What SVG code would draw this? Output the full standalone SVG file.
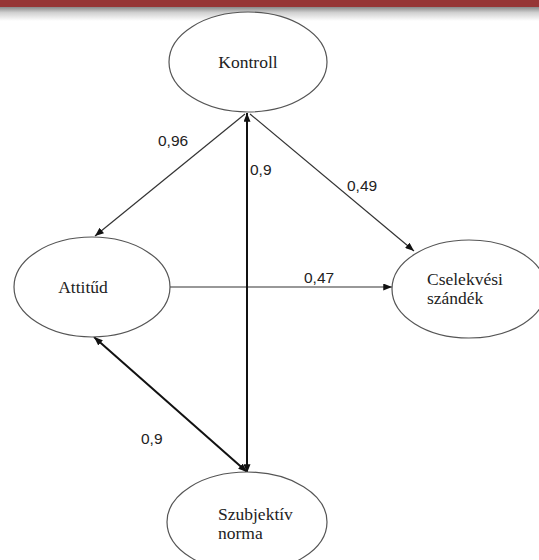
<svg xmlns="http://www.w3.org/2000/svg" width="539" height="560" viewBox="0 0 539 560">
<style>
.node{fill:#fff;stroke:#555;stroke-width:1.2}
.nt{font-family:"Liberation Serif",serif;font-size:17.5px;fill:#222}
.lbl{font-family:"Liberation Sans",Arial,sans-serif;font-size:15.5px;fill:#222}
.c{stroke:#333;stroke-width:1.2;fill:none}
.ct{stroke:#111;stroke-width:2;fill:none}
</style>
<defs>
<linearGradient id="shade" x1="0" y1="0" x2="0" y2="1">
<stop offset="0" stop-color="#8a8a8a"/>
<stop offset="0.4" stop-color="#d0d0d0"/>
<stop offset="1" stop-color="#fff"/>
</linearGradient>
<marker id="ah" viewBox="0 0 10 8" refX="10" refY="4" markerWidth="9" markerHeight="7" markerUnits="userSpaceOnUse" orient="auto-start-reverse">
<path d="M0,0 L10,4 L0,8 z" fill="#111"/>
</marker>
</defs>
<rect width="539" height="560" fill="#fff"/>
<rect x="0" y="7" width="539" height="14" fill="url(#shade)"/>
<rect x="0" y="0" width="539" height="7" fill="#963636"/>
<g id="connectors">
<line class="c" x1="245" y1="114" x2="95" y2="236" marker-end="url(#ah)"/>
<line class="c" x1="250" y1="114" x2="414" y2="251" marker-end="url(#ah)"/>
<line class="c" x1="170" y1="287" x2="392" y2="287" marker-end="url(#ah)"/>
<line class="ct" x1="247" y1="113" x2="247" y2="473" marker-start="url(#ah)" marker-end="url(#ah)"/>
<line class="ct" x1="94" y1="337" x2="247" y2="472" marker-start="url(#ah)" marker-end="url(#ah)"/>
</g>
<g id="kontroll">
<ellipse class="node" cx="248" cy="62" rx="79" ry="50"/>
<text class="nt" x="248" y="68" text-anchor="middle">Kontroll</text>
</g>
<g id="attitud">
<ellipse class="node" cx="92" cy="287" rx="78" ry="50"/>
<text class="nt" x="83" y="293" text-anchor="middle">Attitűd</text>
</g>
<g id="cselekvesi">
<ellipse class="node" cx="469" cy="289" rx="77" ry="49"/>
<text class="nt" x="427" y="285">Cselekvési</text>
<text class="nt" x="427" y="304">szándék</text>
</g>
<g id="szubjektiv">
<ellipse class="node" cx="247" cy="522" rx="80" ry="50"/>
<text class="nt" x="218" y="520">Szubjektív</text>
<text class="nt" x="218" y="539">norma</text>
</g>
<g id="labels">
<text class="lbl" x="158" y="146">0,96</text>
<text class="lbl" x="250" y="175">0,9</text>
<text class="lbl" x="347" y="191">0,49</text>
<text class="lbl" x="304" y="283">0,47</text>
<text class="lbl" x="141" y="444">0,9</text>
</g>
</svg>
